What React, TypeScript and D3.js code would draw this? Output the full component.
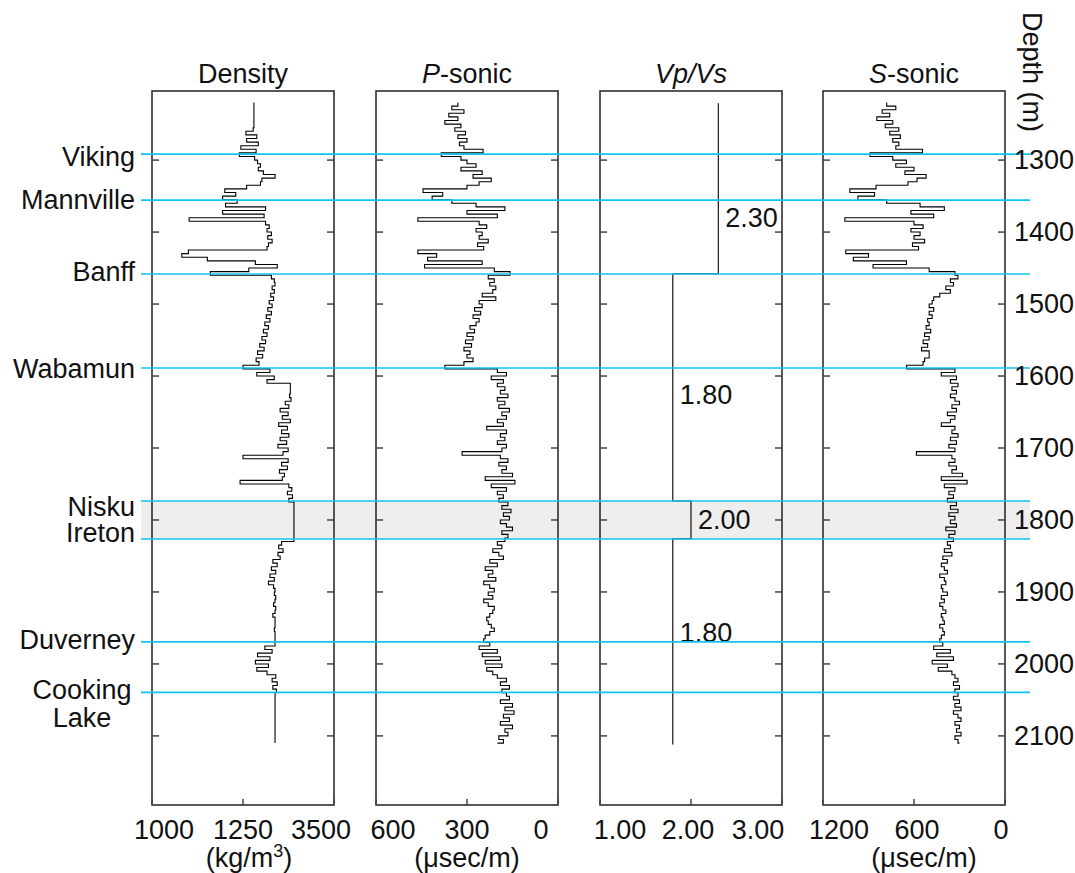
import React from "react";
import * as d3 from "d3";

// ---------------- DATA ----------------
const depths = [
  1220, 1225, 1230, 1235, 1240, 1245, 1250, 1255, 1260, 1265,
  1270, 1275, 1280, 1285, 1290, 1295, 1300, 1305, 1310, 1315,
  1320, 1325, 1330, 1335, 1340, 1345, 1350, 1355, 1360, 1365,
  1370, 1375, 1380, 1385, 1390, 1395, 1400, 1405, 1410, 1415,
  1420, 1425, 1430, 1435, 1440, 1445, 1450, 1455, 1460, 1465,
  1470, 1475, 1480, 1485, 1490, 1495, 1500, 1505, 1510, 1515,
  1520, 1525, 1530, 1535, 1540, 1545, 1550, 1555, 1560, 1565,
  1570, 1575, 1580, 1585, 1590, 1595, 1600, 1605, 1610, 1615,
  1620, 1625, 1630, 1635, 1640, 1645, 1650, 1655, 1660, 1665,
  1670, 1675, 1680, 1685, 1690, 1695, 1700, 1705, 1710, 1715,
  1720, 1725, 1730, 1735, 1740, 1745, 1750, 1755, 1760, 1765,
  1770, 1775, 1780, 1785, 1790, 1795, 1800, 1805, 1810, 1815,
  1820, 1825, 1830, 1835, 1840, 1845, 1850, 1855, 1860, 1865,
  1870, 1875, 1880, 1885, 1890, 1895, 1900, 1905, 1910, 1915,
  1920, 1925, 1930, 1935, 1940, 1945, 1950, 1955, 1960, 1965,
  1970, 1975, 1980, 1985, 1990, 1995, 2000, 2005, 2010, 2015,
  2020, 2025, 2030, 2035, 2040, 2045, 2050, 2055, 2060, 2065,
  2070, 2075, 2080, 2085, 2090, 2095, 2100, 2105, 2110,
];

// kg/m^3
const density = [
  2400, 2400, 2400, 2400, 2400, 2400, 2400, 2390, 2290, 2440,
  2300, 2460, 2220, 2430, 2200, 2410, 2450, 2490, 2460, 2530,
  2690, 2510, 2490, 2300, 2000, 2150, 1970, 2170, 2010, 2560,
  1970, 2540, 1510, 2560, 2610, 2580, 2640, 2590, 2650, 2600,
  2580, 1500, 1410, 1760, 2420, 2720, 2330, 1800, 2640, 2680,
  2690, 2650, 2680, 2630, 2670, 2610, 2650, 2590, 2640, 2570,
  2620, 2550, 2600, 2530, 2580, 2510, 2560, 2480, 2540, 2450,
  2520, 2430, 2470, 2250, 2620, 2440, 2680, 2580, 2900, 2900,
  2900, 2890, 2910, 2830, 2880, 2760, 2870, 2790, 2900, 2740,
  2860, 2780, 2880, 2760, 2850, 2730, 2870, 2800, 2250, 2870,
  2780, 2860, 2750, 2820, 2790, 2210, 2880, 2920, 2860, 2930,
  2880, 2950, 2950, 2950, 2950, 2950, 2950, 2950, 2950, 2950,
  2950, 2950, 2780, 2740, 2800, 2730, 2760, 2660, 2720, 2640,
  2700, 2620, 2680, 2600, 2670, 2690, 2680, 2700, 2690, 2670,
  2700, 2690, 2660, 2690, 2690, 2690, 2680, 2690, 2690, 2690,
  2690, 2550, 2650, 2450, 2620, 2420, 2600, 2440, 2580, 2700,
  2650, 2720, 2660, 2710, 2690, 2690, 2690, 2690, 2690, 2690,
  2690, 2690, 2690, 2690, 2690, 2690, 2690, 2690, 2690,
];

// usec/m
const pSonic = [
  330, 350, 310, 360, 330, 373, 320, 340, 305, 330,
  300, 325, 310, 247, 385, 320, 300, 270, 320, 250,
  280, 220, 260, 300, 445, 380, 415, 350, 270, 175,
  300, 200, 462, 260, 235, 270, 250, 260, 230, 265,
  245, 462, 400, 430, 250, 440, 210, 158, 230, 210,
  225, 205, 215, 250, 205, 260, 250, 275, 255, 280,
  260, 270, 290, 275, 300, 280, 305, 285, 310, 290,
  300, 280, 310, 373, 200, 170, 220, 180, 200, 175,
  190, 165, 200, 175, 195, 160, 185, 170, 200, 180,
  235, 170, 190, 175, 200, 170, 185, 316, 190, 165,
  195, 170, 185, 150, 240, 142, 220, 170, 200, 180,
  195, 165, 185, 155, 180, 160, 190, 170, 150, 185,
  165, 175, 200, 185, 215, 195, 180, 225, 200, 240,
  215, 230, 205, 245, 225, 210, 230, 215, 245, 230,
  210, 215, 225, 235, 230, 220, 210, 225, 240, 245,
  225, 260, 200, 250, 190, 240, 185, 235, 215, 200,
  170, 190, 160, 185, 170, 160, 190, 150, 175, 145,
  180, 160, 190, 150, 175, 165, 195, 180, 200,
];

// usec/m
const sSonic = [
  780, 720, 810, 760, 845, 740, 790, 700, 760, 690,
  740, 700, 720, 544, 890, 740, 650, 720, 600, 660,
  520, 580, 640, 850, 1023, 860, 970, 780, 560, 400,
  620, 470, 1056, 600, 540, 620, 560, 600, 530, 610,
  570, 1050, 900, 1000, 650, 870, 500, 330, 310, 360,
  340, 390, 360, 430, 470, 480, 500, 470, 500, 480,
  510, 500, 520, 490, 530, 500, 540, 510, 550, 500,
  500, 530, 540, 649, 330, 420, 320, 360, 310, 350,
  320, 360, 330, 300, 350, 320, 380, 330, 360, 420,
  330, 350, 310, 360, 320, 370, 330, 584, 350, 330,
  370, 320, 350, 280, 420, 250, 400, 330, 370, 340,
  380, 320, 360, 310, 370, 330, 360, 320, 390, 330,
  370, 340, 380, 360, 400, 350, 410, 380, 420, 400,
  380, 430, 400, 390, 420, 410, 380, 420, 400, 430,
  410, 390, 420, 410, 400, 430, 410, 400, 420, 430,
  410, 470, 360, 450, 340, 480, 380, 440, 350, 330,
  310, 340, 300, 330, 310, 340, 300, 330, 290, 340,
  310, 290, 330, 300, 320, 290, 330, 310, 300,
];

// Vp/Vs blocky model
const vpvsDepths = [1221, 1458, 1773.6, 1826, 2112];
const vpvsValues = [2.3, 1.8, 2.0, 1.8, 1.8];
const vpvsLabelText = ["2.30", "1.80", "2.00", "1.80"];
const vpvsLabelDepths = [1380, 1626, 1800, 1957];
const vpvsLabelValues = [2.3, 1.8, 2.0, 1.8];

const horizonNames = ["Viking", "Mannville", "Banff", "Wabamun", "Nisku", "Ireton", "Duverney", "Cooking Lake"];
const horizonDepths = [1291.7, 1355.6, 1458.3, 1588.9, 1773.6, 1826.4, 1969.4, 2039.5];

const depthTicks = [1300, 1400, 1500, 1600, 1700, 1800, 1900, 2000, 2100];

const trackTitles = ["Density", "P-sonic", "Vp/Vs", "S-sonic"];
const trackDomains: [number, number][] = [[1000, 3500], [600, 0], [1, 3], [1200, 0]];
const trackTickValues = [[1000, 2250, 3500], [600, 300, 0], [1, 2, 3], [1200, 600, 0]];
const trackTickLabels = [["1000", "1250", "3500"], ["600", "300", "0"], ["1.00", "2.00", "3.00"], ["1200", "600", "0"]];

// ---------------- LAYOUT ----------------
const W = 1075, H = 873;
const TOP = 91, BOTTOM = 805;
const PANEL_W = 182;
const PANEL_LEFTS = [152, 376, 600, 823];
const FONT = "'Liberation Sans', Arial, Helvetica, sans-serif";
const FS = 27;
const CYAN = "#10c4f0";
const labelDy = [3, 0, -2, 1, 6, -6, -2, -2];
const tickLabelDx = [[12, 0, -13], [17, 0, -17], [20, -3, -24], [16, 3, -4]];

export default function App() {
  const y = d3.scaleLinear().domain([1204, 2196]).range([TOP, BOTTOM]);
  const xs = trackDomains.map((dom, i) =>
    d3.scaleLinear().domain(dom).range([PANEL_LEFTS[i], PANEL_LEFTS[i] + PANEL_W])
  );

  const mkLine = (xsc: d3.ScaleLinear<number, number>) =>
    d3.line<[number, number]>().x((d) => xsc(d[1])).y((d) => y(d[0])).curve(d3.curveStepBefore);

  const logs = [density, pSonic, null, sSonic];
  const nisku = horizonDepths[4], ireton = horizonDepths[5];

  const title = (t: string) => {
    if (t === "P-sonic") return (<><tspan fontStyle="italic">P</tspan>-sonic</>);
    if (t === "S-sonic") return (<><tspan fontStyle="italic">S</tspan>-sonic</>);
    if (t === "Vp/Vs") return <tspan fontStyle="italic">Vp/Vs</tspan>;
    return t;
  };

  return (
    <svg width={W} height={H} style={{ position: "absolute", left: 0, top: 0, background: "#fff" }}
      fontFamily={FONT} fontSize={FS}>
      {/* Ireton band */}
      <rect x={141} width={1030 - 141} y={y(nisku)} height={y(ireton) - y(nisku)} fill="#eeeeee" />

      {/* traces */}
      {logs.map((arr, i) =>
        arr ? (
          <path key={"log" + i}
            d={mkLine(xs[i])(depths.map((d, k) => [d, arr[k]] as [number, number])) || ""}
            fill="none" stroke="#000" strokeWidth={1.1} />
        ) : null
      )}
      <path d={mkLine(xs[2])(vpvsDepths.map((d, k) => [d, vpvsValues[k]] as [number, number])) || ""}
        fill="none" stroke="#000" strokeWidth={1.1} />

      {/* panels */}
      {PANEL_LEFTS.map((l, i) => (
        <g key={"p" + i}>
          <rect x={l} y={TOP} width={PANEL_W} height={BOTTOM - TOP} fill="none" stroke="#222" strokeWidth={1.5} />
          {depthTicks.map((t) => (
            <g key={t}>
              <line x1={l} x2={l + 7} y1={y(t)} y2={y(t)} stroke="#444" strokeWidth={1.5} />
              <line x1={l + PANEL_W - 7} x2={l + PANEL_W} y1={y(t)} y2={y(t)} stroke="#444" strokeWidth={1.5} />
            </g>
          ))}
          {trackTickValues[i].map((v, k) => (
            <line key={"bt" + k} x1={xs[i](v)} x2={xs[i](v)} y1={BOTTOM} y2={BOTTOM - 6} stroke="#444" strokeWidth={1.5} />
          ))}
          {trackTickValues[i].map((v, k) => (
            <text key={"bl" + k} x={xs[i](v) + tickLabelDx[i][k]} y={839} textAnchor="middle" fill="#111">
              {trackTickLabels[i][k]}
            </text>
          ))}
          <text x={l + PANEL_W / 2} y={83} textAnchor="middle" fill="#111">{title(trackTitles[i])}</text>
        </g>
      ))}

      {/* units */}
      <text x={PANEL_LEFTS[0] + PANEL_W / 2 + 6} y={867} textAnchor="middle" fill="#111">
        (kg/m<tspan dy={-10} fontSize={18}>3</tspan><tspan dy={10}>)</tspan>
      </text>
      <text x={PANEL_LEFTS[1] + PANEL_W / 2} y={867} textAnchor="middle" fill="#111">(μsec/m)</text>
      <text x={PANEL_LEFTS[3] + PANEL_W / 2 + 10} y={867} textAnchor="middle" fill="#111">(μsec/m)</text>

      {/* Vp/Vs annotations */}
      {vpvsLabelText.map((t, k) => (
        <text key={"vl" + k} x={xs[2](vpvsLabelValues[k]) + 7} y={y(vpvsLabelDepths[k])}
          dominantBaseline="central" fill="#111">{t}</text>
      ))}

      {/* horizons */}
      {horizonDepths.map((d, k) => (
        <line key={"h" + k} x1={141} x2={1030} y1={y(d)} y2={y(d)} stroke={CYAN} strokeWidth={1.6} />
      ))}
      {horizonNames.map((n, k) => {
        const yy = y(horizonDepths[k]) + labelDy[k];
        if (n === "Cooking Lake") {
          return (
            <text key={"hn" + k} x={82} y={yy} textAnchor="middle" dominantBaseline="central" fill="#111">
              <tspan x={82}>Cooking</tspan>
              <tspan x={82} dy={28}>Lake</tspan>
            </text>
          );
        }
        return (
          <text key={"hn" + k} x={135} y={yy} textAnchor="end" dominantBaseline="central" fill="#111">{n}</text>
        );
      })}

      {/* depth axis */}
      {depthTicks.map((t) => (
        <text key={"d" + t} x={1014} y={y(t)} dominantBaseline="central" fill="#111">{t}</text>
      ))}
      <text transform="translate(1032,72) rotate(90)" textAnchor="middle" dominantBaseline="central" fill="#111">
        Depth (m)
      </text>
    </svg>
  );
}
